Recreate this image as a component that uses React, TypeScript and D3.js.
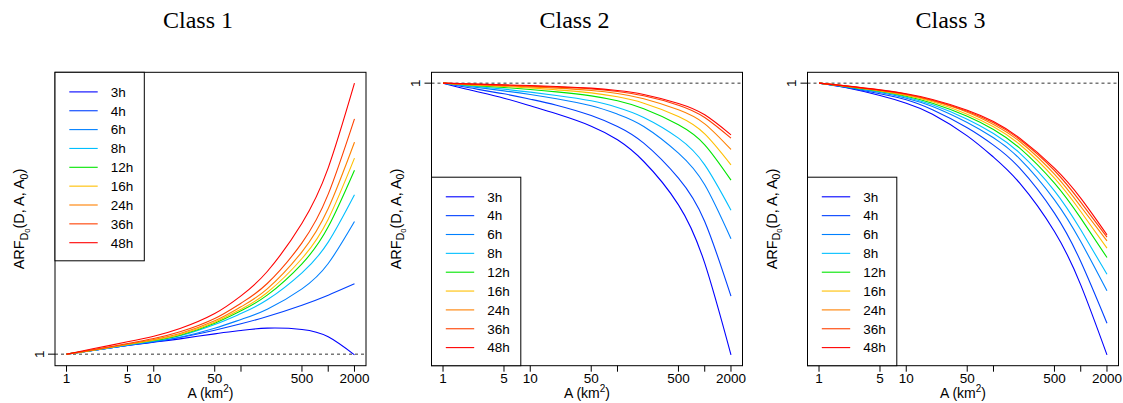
import React from "react";
import * as d3 from "d3";

// ---- data ----
const areas = [1, 2, 5, 10, 20, 50, 100, 200, 500, 1000, 2000];
const durations = ["3h", "4h", "6h", "8h", "12h", "16h", "24h", "36h", "48h"];
const colors = ["#0000FF", "#0040FF", "#0080FF", "#00BFFF", "#00E600", "#FFBF00", "#FF8000", "#FF4000", "#FF0000"];
const titles = ["Class 1", "Class 2", "Class 3"];

const class1 = [
  [1, 1.011, 1.026, 1.036, 1.046, 1.061, 1.071, 1.078, 1.074, 1.052, 0.998],
  [1, 1.011, 1.026, 1.037, 1.05, 1.072, 1.091, 1.113, 1.147, 1.177, 1.211],
  [1, 1.011, 1.027, 1.038, 1.051, 1.078, 1.104, 1.135, 1.196, 1.272, 1.398],
  [1, 1.011, 1.028, 1.04, 1.055, 1.089, 1.122, 1.163, 1.244, 1.336, 1.478],
  [1, 1.012, 1.029, 1.041, 1.057, 1.093, 1.13, 1.177, 1.271, 1.382, 1.552],
  [1, 1.012, 1.029, 1.042, 1.059, 1.096, 1.135, 1.185, 1.287, 1.405, 1.588],
  [1, 1.012, 1.03, 1.044, 1.062, 1.1, 1.142, 1.196, 1.307, 1.437, 1.636],
  [1, 1.013, 1.032, 1.047, 1.067, 1.107, 1.153, 1.212, 1.334, 1.48, 1.706],
  [1, 1.016, 1.037, 1.054, 1.077, 1.122, 1.175, 1.248, 1.393, 1.559, 1.813],
];

const class2 = [
  [1, 0.98, 0.955, 0.932, 0.908, 0.871, 0.83, 0.765, 0.635, 0.46, 0.185],
  [1, 0.986, 0.968, 0.952, 0.934, 0.903, 0.87, 0.82, 0.715, 0.585, 0.361],
  [1, 0.99, 0.977, 0.966, 0.953, 0.932, 0.907, 0.87, 0.79, 0.695, 0.533],
  [1, 0.992, 0.982, 0.973, 0.963, 0.947, 0.927, 0.897, 0.835, 0.755, 0.619],
  [1, 0.994, 0.987, 0.981, 0.974, 0.962, 0.947, 0.923, 0.875, 0.815, 0.709],
  [1, 0.995, 0.99, 0.986, 0.98, 0.971, 0.959, 0.94, 0.9, 0.848, 0.755],
  [1, 0.996, 0.992, 0.989, 0.985, 0.978, 0.969, 0.953, 0.92, 0.878, 0.801],
  [1, 0.997, 0.994, 0.991, 0.988, 0.983, 0.975, 0.962, 0.934, 0.897, 0.835],
  [1, 0.998, 0.995, 0.993, 0.99, 0.985, 0.978, 0.966, 0.939, 0.905, 0.845],
];

const class3 = [
  [1, 0.987, 0.963, 0.94, 0.907, 0.842, 0.778, 0.7, 0.555, 0.395, 0.185],
  [1, 0.988, 0.968, 0.95, 0.92, 0.866, 0.814, 0.745, 0.61, 0.465, 0.28],
  [1, 0.989, 0.972, 0.955, 0.93, 0.882, 0.836, 0.773, 0.65, 0.525, 0.377],
  [1, 0.99, 0.974, 0.958, 0.935, 0.892, 0.849, 0.79, 0.677, 0.56, 0.427],
  [1, 0.99, 0.976, 0.961, 0.94, 0.901, 0.861, 0.805, 0.7, 0.595, 0.477],
  [1, 0.991, 0.977, 0.963, 0.944, 0.907, 0.869, 0.816, 0.715, 0.615, 0.505],
  [1, 0.991, 0.978, 0.965, 0.947, 0.913, 0.876, 0.825, 0.727, 0.63, 0.527],
  [1, 0.992, 0.979, 0.967, 0.949, 0.916, 0.881, 0.831, 0.738, 0.643, 0.538],
  [1, 0.992, 0.98, 0.968, 0.951, 0.919, 0.885, 0.835, 0.745, 0.655, 0.545],
];

const xTicks = [1, 5, 10, 50, 100, 500, 1000, 2000];
const xTickLabels = ["1", "5", "10", "50", "", "500", "", "2000"];
const yTicks = [1];
const legendCorner = ["top", "bottom", "bottom"];

// ---- layout ----
const W = 1123;
const H = 403;
const panelLefts = [55, 431.5, 807.5];
const plotW = 311;
const plotTop = 72.3;
const plotBottom = 365.7;
const sans = "'Liberation Sans', Arial, Helvetica, sans-serif";
const serif = "'Liberation Serif', 'Times New Roman', serif";

function Panel({ idx, data }: { idx: number; data: number[][] }) {
  const left = panelLefts[idx];
  const right = left + plotW;
  const lmin = Math.log10(areas[0]);
  const lmax = Math.log10(areas[areas.length - 1]);
  const lpad = (lmax - lmin) * 0.04;
  const x = d3
    .scaleLog()
    .domain([Math.pow(10, lmin - lpad), Math.pow(10, lmax + lpad)])
    .range([left, right]);
  const all = data.flat();
  const ext = d3.extent(all) as [number, number];
  const span = ext[1] - ext[0];
  const y = d3
    .scaleLinear()
    .domain([ext[0] - 0.04 * span, ext[1] + 0.04 * span])
    .range([plotBottom, plotTop]);

  const line = d3
    .line<[number, number]>()
    .x((d) => x(d[0]))
    .y((d) => y(d[1]))
    .curve(d3.curveNatural);

  const legH = 188.5;
  const legW = 89.3;
  const legTop = legendCorner[idx] === "top" ? plotTop : plotBottom - legH;
  const rowStep = 18.85;
  const row0 = legTop + 19.6;
  const cx = (left + right) / 2;
  const cy = (plotTop + plotBottom) / 2;
  const ylabX = left - 31;

  return (
    <g>
      <text x={left + 143} y={27.5} textAnchor="middle" fontFamily={serif} fontSize={24} fill="#000">
        {titles[idx]}
      </text>
      {yTicks.map((t) => (
        <line key={"dl" + t} x1={left} x2={right} y1={y(t)} y2={y(t)} stroke="#333" strokeWidth={1} strokeDasharray="3,3" />
      ))}
      {data.map((vals, i) => (
        <path
          key={durations[i]}
          d={line(areas.map((a, j) => [a, vals[j]] as [number, number])) || ""}
          fill="none"
          stroke={colors[i]}
          strokeWidth={1.1}
        />
      ))}
      <rect x={left} y={plotTop} width={plotW} height={plotBottom - plotTop} fill="none" stroke="#000" strokeWidth={1} />
      {/* x axis */}
      {xTicks.map((t, i) => (
        <g key={"xt" + t}>
          <line x1={x(t)} x2={x(t)} y1={plotBottom} y2={plotBottom + 6} stroke="#000" strokeWidth={1} />
          {xTickLabels[i] !== "" && (
            <text x={x(t)} y={382.5} textAnchor="middle" fontFamily={sans} fontSize={13.5} fill="#000">
              {xTickLabels[i]}
            </text>
          )}
        </g>
      ))}
      <text x={cx} y={397.5} textAnchor="middle" fontFamily={sans} fontSize={14} fill="#000">
        A (km<tspan dy={-5.5} fontSize={10}>2</tspan>
        <tspan dy={5.5}>)</tspan>
      </text>
      {/* y axis */}
      {yTicks.map((t) => (
        <g key={"yt" + t}>
          <line x1={left - 7} x2={left} y1={y(t)} y2={y(t)} stroke="#000" strokeWidth={1} />
          <text
            transform={`translate(${left - 11.5},${y(t)}) rotate(-90)`}
            textAnchor="middle"
            fontFamily={sans}
            fontSize={13.5}
            fill="#000"
          >
            {String(t)}
          </text>
        </g>
      ))}
      <text transform={`translate(${ylabX},${cy}) rotate(-90)`} textAnchor="middle" fontFamily={sans} fontSize={14.5} fill="#000">
        ARF<tspan dy={3.5} fontSize={10.5}>D</tspan>
        <tspan dy={2} fontSize={7.5}>0</tspan>
        <tspan dy={-5.5}>(D, A, A</tspan>
        <tspan dy={3.5} fontSize={10.5}>0</tspan>
        <tspan dy={-3.5}>)</tspan>
      </text>
      {/* legend */}
      <rect x={left} y={legTop} width={legW} height={legH} fill="#fff" stroke="#000" strokeWidth={1} />
      {durations.map((dn, i) => (
        <g key={"lg" + dn}>
          <line x1={left + 14.3} x2={left + 42.7} y1={row0 + i * rowStep} y2={row0 + i * rowStep} stroke={colors[i]} strokeWidth={1.1} />
          <text x={left + 55.8} y={row0 + i * rowStep + 4.8} fontFamily={sans} fontSize={13.5} fill="#000">
            {dn}
          </text>
        </g>
      ))}
    </g>
  );
}

export default function App() {
  const datasets = [class1, class2, class3];
  return (
    <svg
      width={W}
      height={H}
      viewBox={`0 0 ${W} ${H}`}
      style={{ position: "absolute", left: 0, top: 0, background: "#fff" }}
    >
      <rect x={0} y={0} width={W} height={H} fill="#fff" />
      {datasets.map((d, i) => (
        <Panel key={i} idx={i} data={d} />
      ))}
    </svg>
  );
}
